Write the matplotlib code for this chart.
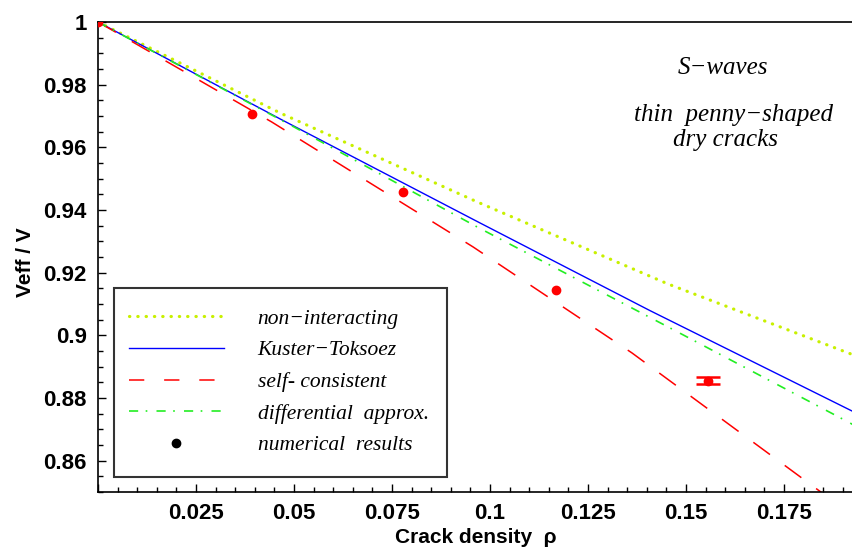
import matplotlib
matplotlib.use('Agg')
import matplotlib.pyplot as plt
from matplotlib.lines import Line2D
from matplotlib.patches import Rectangle
from matplotlib.ticker import MultipleLocator, FuncFormatter

# values
rho_ni = [0.0, 0.0056, 0.0464, 0.0967, 0.1454, 0.1926]
v_ni = [1.0, 0.9965, 0.9710, 0.9426, 0.9164, 0.8938]

rho_kt = [0.0, 0.0464, 0.0974, 0.1408, 0.1926]
v_kt = [1.0, 0.9691, 0.9359, 0.9079, 0.8757]

rho_sc = [0.0, 0.0443, 0.0957, 0.1362, 0.1844, 0.1926]
v_sc = [1.0, 0.9681, 0.9282, 0.8944, 0.8500, 0.8425]

rho_da = [0.0, 0.05, 0.0967, 0.1454, 0.1913, 0.1926]
v_da = [1.0, 0.9665, 0.9346, 0.9027, 0.8724, 0.8715]

rho_num = [0.0, 0.0392, 0.0778, 0.1168, 0.1556]
v_num = [1.0, 0.9707, 0.9458, 0.9145, 0.8855]
err_num = [0.0, 0.0, 0.0, 0.0, 0.0011]

labels = ['non\u2212interacting', 'Kuster\u2212Toksoez', 'self- consistent',
          'differential  approx.', 'numerical  results']

c_ni = '#c8f000'
c_kt = '#0000ff'
c_sc = '#ff0000'
c_da = '#22ee22'

fig = plt.figure(figsize=(8.53, 5.47), dpi=100)
ax = fig.add_axes([0.1149, 0.1005, 0.8851, 0.8593])

dot_style = (0, (0.1, 2.5))
dash_style = (0, (13.5, 12))
dashdot_style = (0, (5.5, 4.5, 1, 5.5))

ax.plot(rho_ni, v_ni, color=c_ni, lw=2.3, linestyle=dot_style, dash_capstyle='round')
ax.plot(rho_kt, v_kt, color=c_kt, lw=1.0)
ax.plot(rho_sc, v_sc, color=c_sc, lw=1.1, linestyle=dash_style)
ax.plot(rho_da, v_da, color=c_da, lw=1.2, linestyle=dashdot_style)

# numerical points; caps only where an error is given
ax.plot(rho_num, v_num, 'o', color=c_sc, ms=6, zorder=5)
for r, v, e in zip(rho_num, v_num, err_num):
    if e > 0:
        ax.errorbar([r], [v], yerr=[e], fmt='none', ecolor=c_sc,
                    capsize=8.5, elinewidth=1.5, capthick=1.8, zorder=5)

ax.set_xlim(0, 0.1926)
ax.set_ylim(0.85, 1.0)

ax.xaxis.set_major_locator(MultipleLocator(0.025))
ax.xaxis.set_minor_locator(MultipleLocator(0.005))
ax.yaxis.set_major_locator(MultipleLocator(0.02))
ax.yaxis.set_minor_locator(MultipleLocator(0.005))
ax.xaxis.set_major_formatter(FuncFormatter(lambda v, p: '' if abs(v) < 1e-9 else '%g' % round(v, 4)))
ax.yaxis.set_major_formatter(FuncFormatter(lambda v, p: '%g' % round(v, 4)))

ax.tick_params(which='major', direction='in', length=6, width=1, labelsize=16, pad=8)
ax.tick_params(which='minor', direction='in', length=3.5, width=1)
for lab in ax.get_xticklabels() + ax.get_yticklabels():
    lab.set_fontweight('bold')
    lab.set_family('Liberation Sans')

ax.spines['right'].set_visible(False)
for s in ['left', 'bottom', 'top']:
    ax.spines[s].set_linewidth(1.2)

ax.set_xlabel('Crack density  \u03c1', fontsize=15, fontweight='bold', family='Liberation Sans')
ax.xaxis.set_label_coords(0.5, -0.077)
ax.set_ylabel('Veff / V', fontsize=15, fontweight='bold', family='Liberation Sans')
ax.yaxis.set_label_coords(-0.084, 0.49)

txt = dict(fontsize=18, style='italic', family='Liberation Serif', ha='center', va='center')
ax.text(0.1594, 0.9853, 'S\u2212waves', **txt)
ax.text(0.1620, 0.9703, 'thin  penny\u2212shaped', **txt)
ax.text(0.1600, 0.9624, 'dry cracks', **txt)

# legend frame drawn separately to match the reference box
ax.add_patch(Rectangle((0.0212, 0.0319), 0.4411, 0.4021, transform=ax.transAxes,
                       facecolor='white', edgecolor='#333333', lw=1.5, zorder=6))

handles = [
    Line2D([], [], color=c_ni, lw=2.3, linestyle=dot_style, dash_capstyle='round'),
    Line2D([], [], color=c_kt, lw=1.0),
    Line2D([], [], color=c_sc, lw=1.1, linestyle=(0, (10, 13))),
    Line2D([], [], color=c_da, lw=1.2, linestyle=dashdot_style),
    Line2D([], [], color='black', marker='o', ms=6, linestyle='none'),
]
leg = ax.legend(handles, labels, loc='center left', bbox_to_anchor=(0.041, 0.234),
                frameon=False, handlelength=4.4, handletextpad=1.58, labelspacing=0.54,
                borderpad=0, borderaxespad=0,
                prop={'family': 'Liberation Serif', 'style': 'italic', 'size': 15.5})
leg.set_zorder(7)

plt.savefig('out.png', dpi=100)
